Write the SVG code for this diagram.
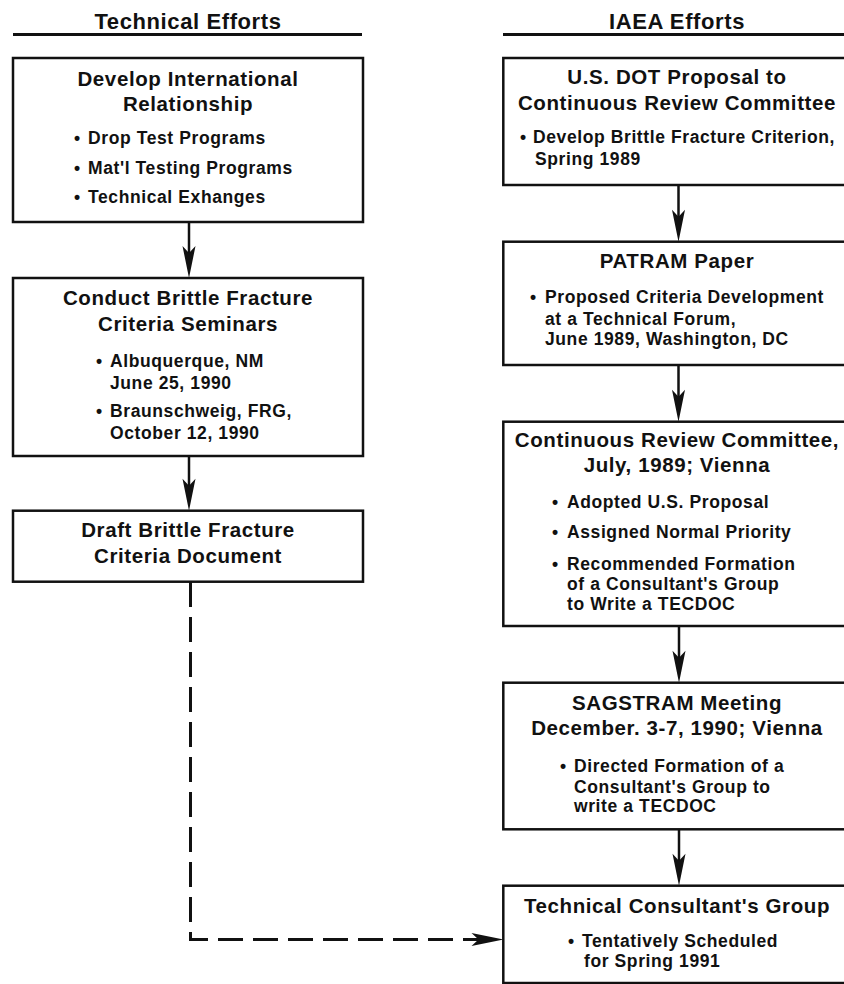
<svg xmlns="http://www.w3.org/2000/svg" xmlns:xlink="http://www.w3.org/1999/xlink" width="844" height="984" viewBox="0 0 844 984">
<defs>
<style>
text{font-family:"Liberation Sans",Arial,Helvetica,sans-serif;font-weight:bold;fill:#111}
.hd{font-size:22px;letter-spacing:0.6px;text-anchor:middle}
.t{font-size:20.5px;letter-spacing:0.6px;text-anchor:middle}
.b{font-size:17.5px;letter-spacing:0.6px}
.box{fill:#fff;stroke:#111;stroke-width:2.5}
.rule{stroke:#111;stroke-width:3}
.ln{stroke:#111;stroke-width:2.5;fill:none}
.dash{stroke:#111;stroke-width:3;fill:none;stroke-dasharray:25 10}
.ah{fill:#111}
</style>
<path id="ahd" d="M0,0 L-6.5,-32 L0,-25 L6.5,-32 Z"/>
</defs>
<rect width="844" height="984" fill="#fff"/>

<g id="header-technical">
<text class="hd" x="188" y="29">Technical Efforts</text>
<line class="rule" x1="13" y1="34.5" x2="362" y2="34.5"/>
</g>
<g id="header-iaea">
<text class="hd" x="677" y="29">IAEA Efforts</text>
<line class="rule" x1="503" y1="34.5" x2="844" y2="34.5"/>
</g>

<g id="connectors">
<line class="ln" x1="189" y1="222" x2="189" y2="256"/>
<use href="#ahd" class="ah" transform="translate(189,278)"/>
<line class="ln" x1="189" y1="456" x2="189" y2="489"/>
<use href="#ahd" class="ah" transform="translate(189,510.7)"/>
<path class="dash" d="M190.5,582 V939.5 H480"/>
<use href="#ahd" class="ah" transform="translate(503.5,939.5) rotate(-90)"/>
<line class="ln" x1="678.5" y1="185" x2="678.5" y2="220"/>
<use href="#ahd" class="ah" transform="translate(678.5,241.7)"/>
<line class="ln" x1="678.5" y1="365" x2="678.5" y2="400"/>
<use href="#ahd" class="ah" transform="translate(678.5,421.7)"/>
<line class="ln" x1="679" y1="626" x2="679" y2="661"/>
<use href="#ahd" class="ah" transform="translate(679,682.7)"/>
<line class="ln" x1="679" y1="829.3" x2="679" y2="864"/>
<use href="#ahd" class="ah" transform="translate(679,885.7)"/>
</g>

<g id="node-develop">
<rect class="box" x="13" y="58" width="350" height="164"/>
<text class="t" x="188" y="86">Develop International</text>
<text class="t" x="188" y="110.5">Relationship</text>
<text class="b" x="74" y="144">•</text><text class="b" x="88" y="144">Drop Test Programs</text>
<text class="b" x="74" y="174">•</text><text class="b" x="88" y="174">Mat'l Testing Programs</text>
<text class="b" x="74" y="203">•</text><text class="b" x="88" y="203">Technical Exhanges</text>
</g>

<g id="node-seminars">
<rect class="box" x="13" y="278" width="350" height="178"/>
<text class="t" x="188" y="305">Conduct Brittle Fracture</text>
<text class="t" x="188" y="330.5">Criteria Seminars</text>
<text class="b" x="96" y="367">•</text><text class="b" x="110" y="367">Albuquerque, NM</text>
<text class="b" x="110" y="388.5">June 25, 1990</text>
<text class="b" x="96" y="416.5">•</text><text class="b" x="110" y="416.5">Braunschweig, FRG,</text>
<text class="b" x="110" y="439">October 12, 1990</text>
</g>

<g id="node-draft">
<rect class="box" x="13" y="510.7" width="350" height="71"/>
<text class="t" x="188" y="536.7">Draft Brittle Fracture</text>
<text class="t" x="188" y="562.7">Criteria Document</text>
</g>

<g id="node-dot">
<rect class="box" x="503.3" y="58" width="350" height="127"/>
<text class="t" x="677" y="84">U.S. DOT Proposal to</text>
<text class="t" x="677" y="110">Continuous Review Committee</text>
<text class="b" x="520" y="143.3">•</text><text class="b" x="533" y="143.3">Develop Brittle Fracture Criterion,</text>
<text class="b" x="535" y="165">Spring 1989</text>
</g>

<g id="node-patram">
<rect class="box" x="503.3" y="241.7" width="350" height="123.3"/>
<text class="t" x="677" y="268.3">PATRAM Paper</text>
<text class="b" x="530" y="303.3">•</text><text class="b" x="545" y="303.3">Proposed Criteria Development</text>
<text class="b" x="545" y="325">at a Technical Forum,</text>
<text class="b" x="545" y="345">June 1989, Washington, DC</text>
</g>

<g id="node-crc">
<rect class="box" x="503.3" y="421.7" width="350" height="204.3"/>
<text class="t" x="677" y="446.7">Continuous Review Committee,</text>
<text class="t" x="677" y="471.7">July, 1989; Vienna</text>
<text class="b" x="552" y="508.3">•</text><text class="b" x="567" y="508.3">Adopted U.S. Proposal</text>
<text class="b" x="552" y="538.3">•</text><text class="b" x="567" y="538.3">Assigned Normal Priority</text>
<text class="b" x="552" y="569.5">•</text><text class="b" x="567" y="569.5">Recommended Formation</text>
<text class="b" x="567" y="590">of a Consultant's Group</text>
<text class="b" x="567" y="609.5">to Write a TECDOC</text>
</g>

<g id="node-sagstram">
<rect class="box" x="503.3" y="682.7" width="350" height="146.6"/>
<text class="t" x="677" y="710">SAGSTRAM Meeting</text>
<text class="t" x="677" y="735">December. 3-7, 1990; Vienna</text>
<text class="b" x="560" y="771.7">•</text><text class="b" x="574" y="771.7">Directed Formation of a</text>
<text class="b" x="574" y="792.7">Consultant's Group to</text>
<text class="b" x="574" y="812.3">write a TECDOC</text>
</g>

<g id="node-consultant">
<rect class="box" x="503.3" y="885.7" width="350" height="97.3"/>
<text class="t" x="677" y="912.7">Technical Consultant's Group</text>
<text class="b" x="568" y="946.7">•</text><text class="b" x="582" y="946.7">Tentatively Scheduled</text>
<text class="b" x="584" y="967.3">for Spring 1991</text>
</g>
</svg>
